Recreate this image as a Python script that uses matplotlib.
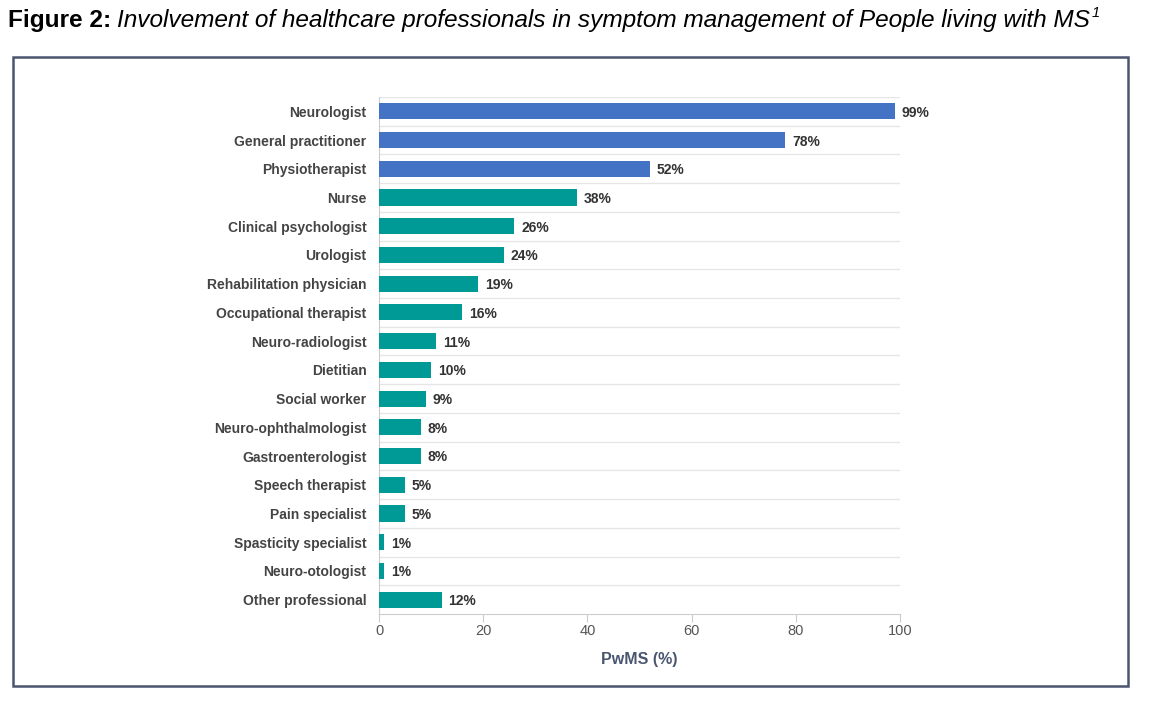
import matplotlib.pyplot as plt
from matplotlib.patches import Rectangle

# * - - - Data
professions = [
    "Neurologist", "General practitioner", "Physiotherapist", "Nurse",
    "Clinical psychologist", "Urologist", "Rehabilitation physician",
    "Occupational therapist", "Neuro-radiologist", "Dietitian",
    "Social worker", "Neuro-ophthalmologist", "Gastroenterologist",
    "Speech therapist", "Pain specialist", "Spasticity specialist",
    "Neuro-otologist", "Other professional",
]
percent = [99, 78, 52, 38, 26, 24, 19, 16, 11, 10, 9, 8, 8, 5, 5, 1, 1, 12]
top_group = 3  # first three bars are blue
x_ticks = [0, 20, 40, 60, 80, 100]

plt.rcParams["font.family"] = ["Liberation Sans", "DejaVu Sans"]

W, H = 1162, 701
fig = plt.figure(figsize=(W / 100, H / 100), dpi=100)

# * - - - Frame around the chart
fig.patches.append(Rectangle((13 / W, 1 - 686 / H), 1115 / W, 629 / H,
                             transform=fig.transFigure, fill=False,
                             edgecolor="#4a5670", linewidth=1.8))

# * - - - Title: bold prefix, italic text, superscript 1
title_y = 1 - 20 / H
t1 = fig.text(8 / W, title_y, "Figure 2:", fontsize=17.6, fontweight="bold",
              va="center", ha="left")
renderer = fig.canvas.get_renderer()
x_next = t1.get_window_extent(renderer).x1 + 6
t2 = fig.text(x_next / W, title_y,
              "Involvement of healthcare professionals in symptom management of People living with MS",
              fontsize=17.6, style="italic", va="center", ha="left")
x_sup = t2.get_window_extent(renderer).x1 + 1
fig.text(x_sup / W, 1 - 13 / H, "1", fontsize=10.5, style="italic", va="center", ha="left")

ax = fig.add_axes([379 / W, 1 - 614 / H, 521 / W, 517 / H])

ypos = list(range(len(professions)))
colors = ["#4472c4" if i < top_group else "#009a96" for i in ypos]
ax.barh(ypos, percent, height=0.56, color=colors, zorder=3)

for y, v in zip(ypos, percent):
    ax.text(v + 1.3, y + 0.05, f"{v}%", va="center", ha="left", fontsize=10,
            fontweight="bold", color="#333333")

ax.set_xlim(0, 100)
ax.set_ylim(len(professions) - 0.5, -0.5)
ax.set_yticks(ypos)
ax.set_yticklabels(professions, fontsize=10, fontweight="bold", color="#444444")
ax.set_xticks(x_ticks)
ax.tick_params(axis="y", length=0, pad=9)
ax.tick_params(axis="x", length=6, color="#cccccc", labelsize=10.5, labelcolor="#555555", pad=1)

# category boundaries as gridlines
for b in range(len(professions)):
    ax.axhline(b - 0.5, color="#e6e6e6", linewidth=1, zorder=1)

for side in ["top", "right"]:
    ax.spines[side].set_visible(False)
ax.spines["left"].set_color("#cccccc")
ax.spines["bottom"].set_color("#cccccc")

ax.set_xlabel("PwMS (%)", fontsize=11.5, fontweight="bold", color="#4a5670", labelpad=10)

fig.savefig("out.png", dpi=100)
